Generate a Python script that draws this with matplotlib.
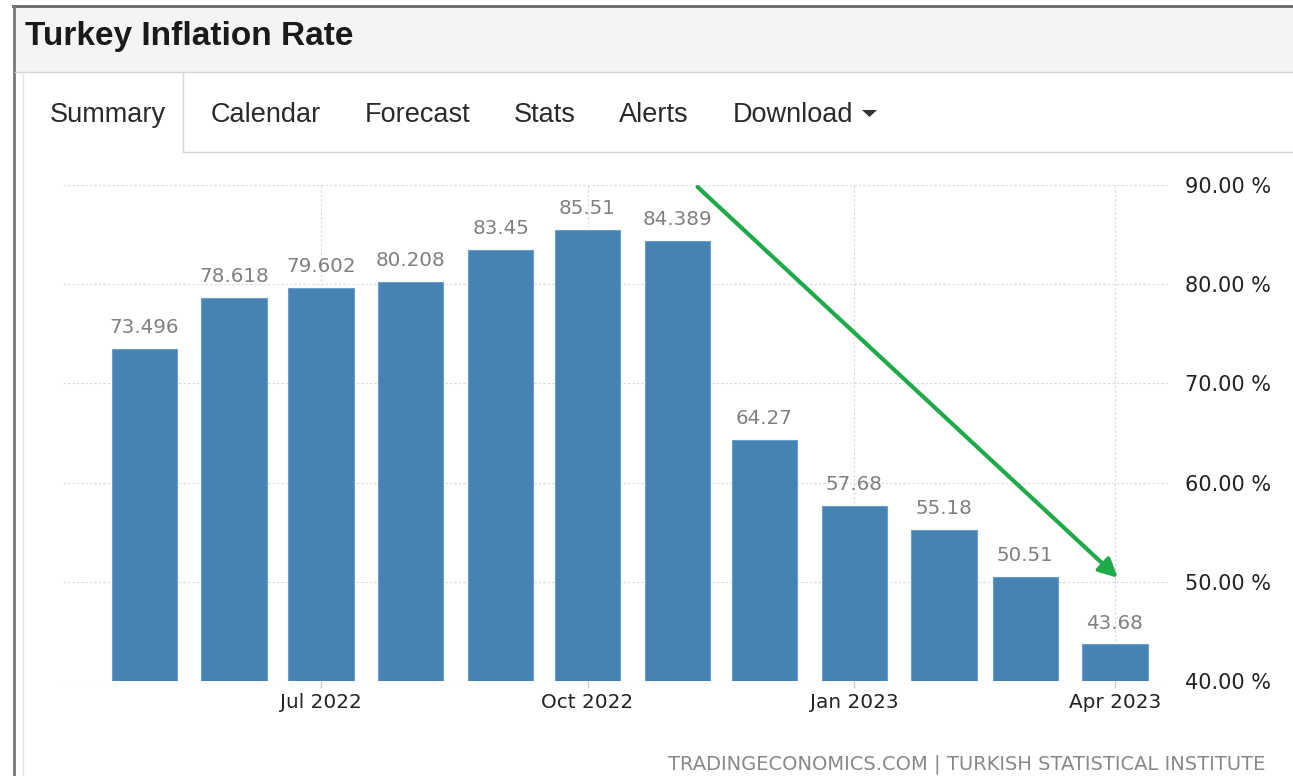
import numpy as np
import matplotlib
matplotlib.use("Agg")
import matplotlib.pyplot as plt
import matplotlib.dates as mdates
from datetime import date

# data
months = [date(2022, 5, 1), date(2022, 6, 1), date(2022, 7, 1), date(2022, 8, 1),
          date(2022, 9, 1), date(2022, 10, 1), date(2022, 11, 1), date(2022, 12, 1),
          date(2023, 1, 1), date(2023, 2, 1), date(2023, 3, 1), date(2023, 4, 1)]
values = [73.496, 78.618, 79.602, 80.208, 83.45, 85.51, 84.389,
          64.27, 57.68, 55.18, 50.51, 43.68]
labels = ["73.496", "78.618", "79.602", "80.208", "83.45", "85.51", "84.389",
          "64.27", "57.68", "55.18", "50.51", "43.68"]
tick_dates = [date(2022, 7, 1), date(2022, 10, 1), date(2023, 1, 1), date(2023, 4, 1)]
tick_labels = ["Jul 2022", "Oct 2022", "Jan 2023", "Apr 2023"]
yticks = [40, 50, 60, 70, 80, 90]
tabs = ["Summary", "Calendar", "Forecast", "Stats", "Alerts", "Download"]
tab_x = [50, 211, 365, 514, 619, 733]

W, H = 1293, 776
fig = plt.figure(figsize=(W / 100, H / 100), dpi=100)
fig.patch.set_facecolor("white")

# page decoration in pixel coordinates
deco = fig.add_axes([0, 0, 1, 1], zorder=0)
deco.set_xlim(0, W)
deco.set_ylim(H, 0)
deco.set_axis_off()
deco.add_patch(plt.Rectangle((15, 7), W - 15, 65, facecolor="#f4f4f4", edgecolor="none"))
deco.plot([13, W], [6, 6], color="#666666", lw=2)
deco.plot([14, 14], [6, H], color="#777777", lw=2)
deco.plot([15, W], [72, 72], color="#d6d6d6", lw=1)
deco.plot([23, 23], [72, H], color="#e6e6e6", lw=1)
deco.plot([183, 183], [72, 152], color="#d6d6d6", lw=1)
deco.plot([183, W], [152, 152], color="#d6d6d6", lw=1)
deco.text(25, 45, "Turkey Inflation Rate", fontsize=24, fontweight="bold",
          family="Liberation Sans", color="#1a1a1a", va="baseline")
for t, x in zip(tabs, tab_x):
    deco.text(x, 122, t, fontsize=19.5, family="Liberation Sans",
              color="#2a2a2a", va="baseline")
deco.add_patch(plt.Polygon([[862, 110], [877, 110], [869.5, 117]],
                           facecolor="#333333", edgecolor="none"))
deco.text(1265, 770, "TRADINGECONOMICS.COM | TURKISH STATISTICAL INSTITUTE",
          fontsize=14, color="#888888", ha="right", va="baseline")

# chart
ax = fig.add_axes([63 / W, 1 - 681 / H, 1107 / W, 496 / H], zorder=2)
ax.patch.set_alpha(0)
x = mdates.date2num(months)
ax.bar(x, values, width=22.5, color="#4682b4", edgecolor="#6d9dcb",
       linewidth=0.8, zorder=3)
for xi, v, lab in zip(x, values, labels):
    ax.annotate(lab, (xi, v), xytext=(0, 11.5), textcoords="offset points",
                ha="center", va="baseline", fontsize=14.3, color="#808080")

ax.set_ylim(40, 90)
ax.set_xlim(mdates.date2num(date(2022, 4, 3)), mdates.date2num(date(2023, 4, 20)))
ax.set_yticks(yticks)
ax.set_yticklabels([f"{v:.2f} %" for v in yticks])
ax.yaxis.tick_right()
ax.set_xticks(mdates.date2num(tick_dates))
ax.set_xticklabels(tick_labels)
ax.tick_params(axis="y", length=0, pad=11, labelsize=15, labelcolor="#222222")
ax.tick_params(axis="x", length=5, width=1, color="#cccccc", pad=4,
               labelsize=14.4, labelcolor="#222222")
for s in ax.spines.values():
    s.set_visible(False)
ax.grid(True, color="#d8d8d8", linestyle=(0, (2, 2)), linewidth=0.8, zorder=0)
ax.set_axisbelow(True)

# trend arrow
ax.annotate("", xy=(mdates.date2num(date(2023, 4, 2)), 50.4),
            xytext=(mdates.date2num(date(2022, 11, 8)), 89.8),
            arrowprops=dict(arrowstyle="-|>", color="#1faa4a", lw=3,
                            mutation_scale=28, shrinkA=0, shrinkB=0),
            zorder=5)

fig.savefig("out.png", dpi=100)
